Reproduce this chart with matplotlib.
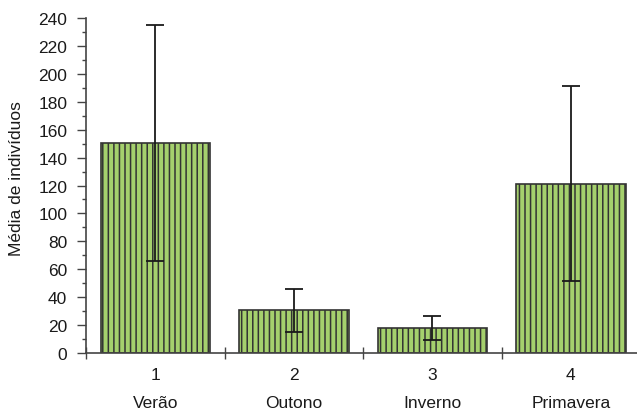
import matplotlib
matplotlib.use("Agg")
import matplotlib.pyplot as plt
from matplotlib.ticker import MultipleLocator, FixedLocator
from matplotlib.transforms import blended_transform_factory

plt.rcParams["font.family"] = ["Liberation Sans", "DejaVu Sans"]
plt.rcParams["hatch.linewidth"] = 1.1
plt.rcParams["hatch.color"] = "#2e2e2e"

positions = [1, 2, 3, 4]
tick_labels = ["1", "2", "3", "4"]
seasons = ["Verão", "Outono", "Inverno", "Primavera"]
means = [150.5, 30.5, 18.2, 121.4]
errors = [84.5, 15.3, 8.6, 70.0]

fig = plt.figure(figsize=(6.37, 4.14), dpi=100)
ax = fig.add_axes([0.135, 0.145, 0.87, 0.809])

ax.bar(positions, means, width=0.79, color="#a5d06d", edgecolor="#333333",
       linewidth=1.2, hatch="|||", zorder=2)
ax.errorbar(positions, means, yerr=errors, fmt="none", ecolor="#1a1a1a",
            elinewidth=1.3, capsize=6.5, capthick=1.3, zorder=3)

ax.set_xlim(0.5, 4.5)
ax.set_ylim(0, 240)
ax.yaxis.set_major_locator(MultipleLocator(20))
ax.yaxis.set_minor_locator(MultipleLocator(10))
ax.set_xticks(positions)
ax.set_xticklabels(tick_labels)
ax.xaxis.set_minor_locator(FixedLocator([0.5, 1.5, 2.5, 3.5, 4.5]))

ax.tick_params(axis="y", which="major", direction="out", length=6.5, width=1,
               color="#444444", labelsize=12.5, pad=7, labelcolor="#1a1a1a")
ax.tick_params(axis="y", which="minor", direction="out", length=3, width=1,
               color="#444444")
ax.tick_params(axis="x", which="major", length=0, labelsize=12.5, pad=10,
               labelcolor="#1a1a1a")
ax.tick_params(axis="x", which="minor", direction="inout", length=8, width=1,
               color="#444444")

for side in ["top", "right"]:
    ax.spines[side].set_visible(False)
for side in ["left", "bottom"]:
    ax.spines[side].set_color("#444444")
    ax.spines[side].set_linewidth(1.2)

ax.set_ylabel("Média de indivíduos", fontsize=12.5, color="#1a1a1a")
ax.yaxis.set_label_coords(-0.1245, 0.525)
ax.yaxis.label.set_va("center")

trans = blended_transform_factory(ax.transData, fig.transFigure)
for p, s in zip(positions, seasons):
    ax.text(p, 1 - 404 / 414, s, transform=trans, ha="center", va="center",
            fontsize=12.5, color="#1a1a1a")

fig.savefig("out.png", dpi=100)
